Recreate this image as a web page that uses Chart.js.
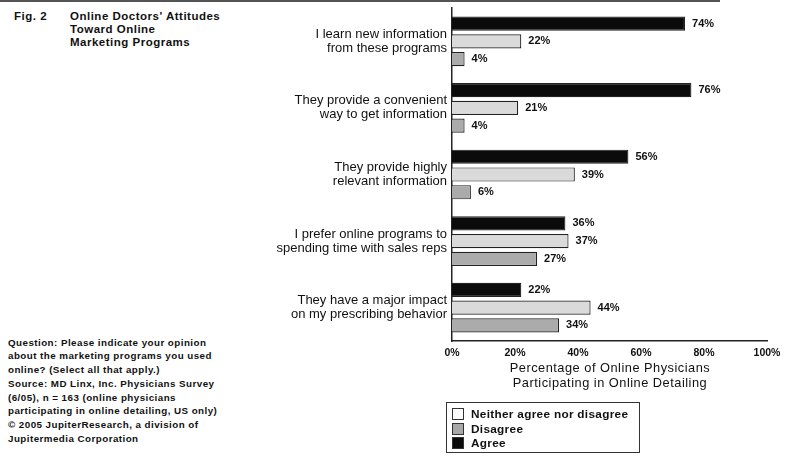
<!DOCTYPE html>
<html>
<head>
<meta charset="utf-8">
<script src="https://cdn.jsdelivr.net/npm/chart.js@4/dist/chart.umd.min.js"></script>
<style>
  html, body { margin: 0; padding: 0; background: #fff; }
  body { width: 786px; height: 466px; position: relative; overflow: hidden; font-family: "Liberation Sans", Arial, sans-serif; color: #111; }
  #wrap { position: absolute; left: 0; top: 0; width: 786px; height: 466px; }
  .topline { position: absolute; left: 0; top: 0; width: 720px; height: 2px; background: #555; }
  .fig { position: absolute; left: 14px; top: 10px; font-weight: bold; font-size: 11.5px; letter-spacing: 0.5px; }
  .title { position: absolute; left: 70px; top: 10px; font-weight: bold; font-size: 11.5px; letter-spacing: 0.5px; line-height: 12.8px; }
  .notes { position: absolute; left: 8px; top: 336px; font-weight: bold; font-size: 9.8px; letter-spacing: 0.45px; line-height: 13.4px; white-space: nowrap; }
  .notes p { margin: 0 0 1px 0; }
  .axtitle { position: absolute; left: 452px; width: 316px; top: 360px; text-align: center; font-size: 12.8px; letter-spacing: 0.5px; line-height: 15px; white-space: nowrap; }
  .legend { position: absolute; left: 446px; top: 402px; width: 194px; height: 51px; border: 1px solid #333; box-sizing: border-box; padding: 4px 0 0 5px; font-size: 11.8px; letter-spacing: 0.3px; font-weight: bold; }
  .legend div { height: 14.5px; line-height: 14px; white-space: nowrap; }
  .legend span.sw { display: inline-block; width: 12px; height: 12px; border: 1px solid #333; box-sizing: border-box; vertical-align: -2px; margin-right: 7px; }
</style>
</head>
<body>
<div class="topline"></div>
<div class="fig">Fig. 2</div>
<div class="title">Online Doctors' Attitudes<br>Toward Online<br>Marketing Programs</div>
<div class="notes">
  <p>Question: Please indicate your opinion<br>about the marketing programs you used<br>online? (Select all that apply.)</p>
  <p>Source: MD Linx, Inc. Physicians Survey<br>(6/05), n = 163 (online physicians<br>participating in online detailing, US only)</p>
  <p>© 2005 JupiterResearch, a division of<br>Jupitermedia Corporation</p>
</div>
<div id="wrap"><canvas id="c" width="786" height="466"></canvas></div>
<div class="axtitle">Percentage of Online Physicians<br>Participating in Online Detailing</div>
<div class="legend" id="legend"></div>
<script>
const categories = [
  ["I learn new information", "from these programs"],
  ["They provide a convenient", "way to get information"],
  ["They provide highly", "relevant information"],
  ["I prefer online programs to", "spending time with sales reps"],
  ["They have a major impact", "on my prescribing behavior"]
];
const agree    = [74, 76, 56, 36, 22];
const neither  = [22, 21, 39, 37, 44];
const disagree = [4, 4, 6, 27, 34];
const xTicks   = [0, 20, 40, 60, 80, 100];
const seriesNames = ["Agree", "Neither agree nor disagree", "Disagree"];
const legendOrder = ["Neither agree nor disagree", "Disagree", "Agree"];

const colors = {
  "Agree": "#0b0b0b",
  "Neither agree nor disagree": "#dadada",
  "Disagree": "#ababab"
};
const legendColors = {
  "Agree": "#0b0b0b",
  "Neither agree nor disagree": "#ffffff",
  "Disagree": "#a8a8a8"
};

const lg = document.getElementById('legend');
legendOrder.forEach(n => {
  const d = document.createElement('div');
  const s = document.createElement('span');
  s.className = 'sw';
  s.style.background = legendColors[n];
  d.appendChild(s);
  d.appendChild(document.createTextNode(n));
  lg.appendChild(d);
});

const valueLabels = {
  id: 'valueLabels',
  afterDatasetsDraw(chart) {
    const ctx = chart.ctx;
    ctx.save();
    ctx.font = 'bold 11px "Liberation Sans", Arial, sans-serif';
    ctx.fillStyle = '#111';
    ctx.textBaseline = 'middle';
    ctx.textAlign = 'left';
    chart.data.datasets.forEach((ds, i) => {
      const meta = chart.getDatasetMeta(i);
      meta.data.forEach((bar, j) => {
        ctx.fillText(ds.data[j] + '%', bar.x + 7, bar.y);
      });
    });
    ctx.restore();
  }
};

const dataSets = [agree, neither, disagree].map((arr, i) => ({
  label: seriesNames[i],
  data: arr,
  backgroundColor: colors[seriesNames[i]],
  borderColor: '#222',
  borderWidth: 1.2,
  categoryPercentage: 0.8,
  barPercentage: 0.8
}));

new Chart(document.getElementById('c'), {
  type: 'bar',
  data: { labels: categories, datasets: dataSets },
  options: {
    indexAxis: 'y',
    responsive: false,
    animation: false,
    layout: { padding: { top: 8, right: 19, bottom: 105, left: 0 } },
    plugins: { legend: { display: false }, tooltip: { enabled: false } },
    scales: {
      x: {
        min: 0, max: 100,
        afterBuildTicks(scale) { scale.ticks = xTicks.map(v => ({ value: v })); },
        afterFit(scale) { scale.height = 20; scale.paddingLeft = 0; scale.paddingRight = 0; },
        grid: { display: false, drawTicks: false },
        border: { display: true, color: '#222', width: 1.5 },
        ticks: {
          padding: 6,
          color: '#111',
          font: { family: '"Liberation Sans", Arial, sans-serif', size: 10.5, weight: 'bold' },
          callback: v => v + '%'
        }
      },
      y: {
        afterFit(scale) { scale.width = 452; scale.paddingTop = 0; scale.paddingBottom = 0; },
        grid: { display: false, drawTicks: false },
        border: { display: true, color: '#222', width: 1.5 },
        ticks: {
          padding: 5,
          color: '#111',
          font: { family: '"Liberation Sans", Arial, sans-serif', size: 13, lineHeight: 1.08 }
        }
      }
    }
  },
  plugins: [valueLabels]
});
</script>
</body>
</html>
